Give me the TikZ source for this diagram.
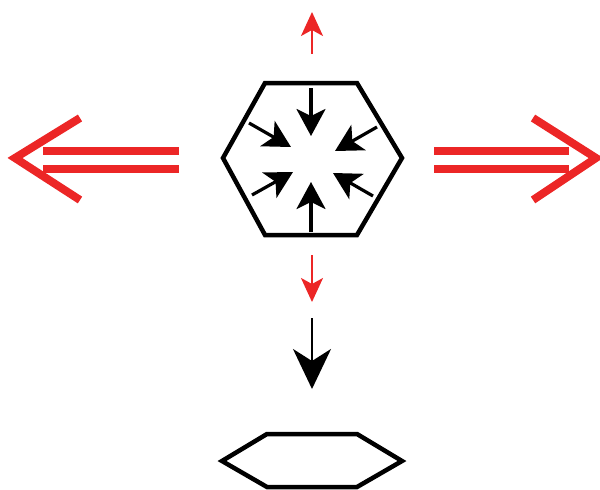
\documentclass[tikz,border=0pt]{standalone}
\usetikzlibrary{arrows.meta}
\definecolor{ared}{RGB}{236,38,38}
\begin{document}
\begin{tikzpicture}[x=1pt,y=-1pt,
  hexline/.style={draw=black,line width=4.5pt,line join=miter},
  inarrow/.style={draw=black,line width=3.2pt,-{Stealth[length=27pt,width=29pt,inset=7pt]}},
  redsmall/.style={draw=ared,line width=2pt,-{Stealth[length=24pt,width=22pt,inset=6pt]}},
  blackdown/.style={draw=black,line width=2pt,-{Stealth[length=40pt,width=38pt,inset=12pt]}},
  redbar/.style={draw=ared,line width=8pt},
  redchev/.style={draw=ared,line width=8pt,line join=miter}]
\useasboundingbox (0,0) rectangle (600,490);
% main hexagon
\coordinate (h1) at (265,83);
\coordinate (h2) at (357,83);
\coordinate (h3) at (402,158);
\coordinate (h4) at (357,235);
\coordinate (h5) at (265,235);
\coordinate (h6) at (223,158);
\draw[hexline] (h1) -- (h2) -- (h3) -- (h4) -- (h5) -- (h6) -- cycle;
% inner arrows
\coordinate (a1s) at (311,88);  \coordinate (a1e) at (311,136);
\coordinate (a2s) at (311,232); \coordinate (a2e) at (311,182);
\coordinate (a3s) at (249,123); \coordinate (a3e) at (291,147);
\coordinate (a4s) at (377,127); \coordinate (a4e) at (335,151);
\coordinate (a5s) at (252,195); \coordinate (a5e) at (293,172);
\coordinate (a6s) at (373,196); \coordinate (a6e) at (333,173);
\draw[inarrow] (a1s) -- (a1e);
\draw[inarrow] (a2s) -- (a2e);
\draw[inarrow] (a3s) -- (a3e);
\draw[inarrow] (a4s) -- (a4e);
\draw[inarrow] (a5s) -- (a5e);
\draw[inarrow] (a6s) -- (a6e);
% top red arrow
\coordinate (t1) at (312,54); \coordinate (t2) at (312,12);
\draw[redsmall] (t1) -- (t2);
% red down arrow
\coordinate (d1) at (312,255); \coordinate (d2) at (312,302);
\draw[redsmall] (d1) -- (d2);
% black down arrow
\coordinate (b1) at (312,318); \coordinate (b2) at (312,389);
\draw[blackdown] (b1) -- (b2);
% left double arrow
\coordinate (l1a) at (43,151); \coordinate (l1b) at (179,151);
\coordinate (l2a) at (43,169); \coordinate (l2b) at (179,169);
\coordinate (lc1) at (80,118); \coordinate (lct) at (15,158); \coordinate (lc2) at (80,200);
\draw[redbar] (l1a) -- (l1b);
\draw[redbar] (l2a) -- (l2b);
\draw[redchev] (lc1) -- (lct) -- (lc2);
% right double arrow
\coordinate (r1a) at (434,151); \coordinate (r1b) at (569,151);
\coordinate (r2a) at (434,169); \coordinate (r2b) at (569,169);
\coordinate (rc1) at (533,118); \coordinate (rct) at (596,158); \coordinate (rc2) at (533,200);
\draw[redbar] (r1a) -- (r1b);
\draw[redbar] (r2a) -- (r2b);
\draw[redchev] (rc1) -- (rct) -- (rc2);
% flat hexagon
\coordinate (f1) at (267,434);
\coordinate (f2) at (357,434);
\coordinate (f3) at (402,461);
\coordinate (f4) at (357,487);
\coordinate (f5) at (267,487);
\coordinate (f6) at (222,461);
\draw[hexline] (f1) -- (f2) -- (f3) -- (f4) -- (f5) -- (f6) -- cycle;
\end{tikzpicture}
\end{document}
